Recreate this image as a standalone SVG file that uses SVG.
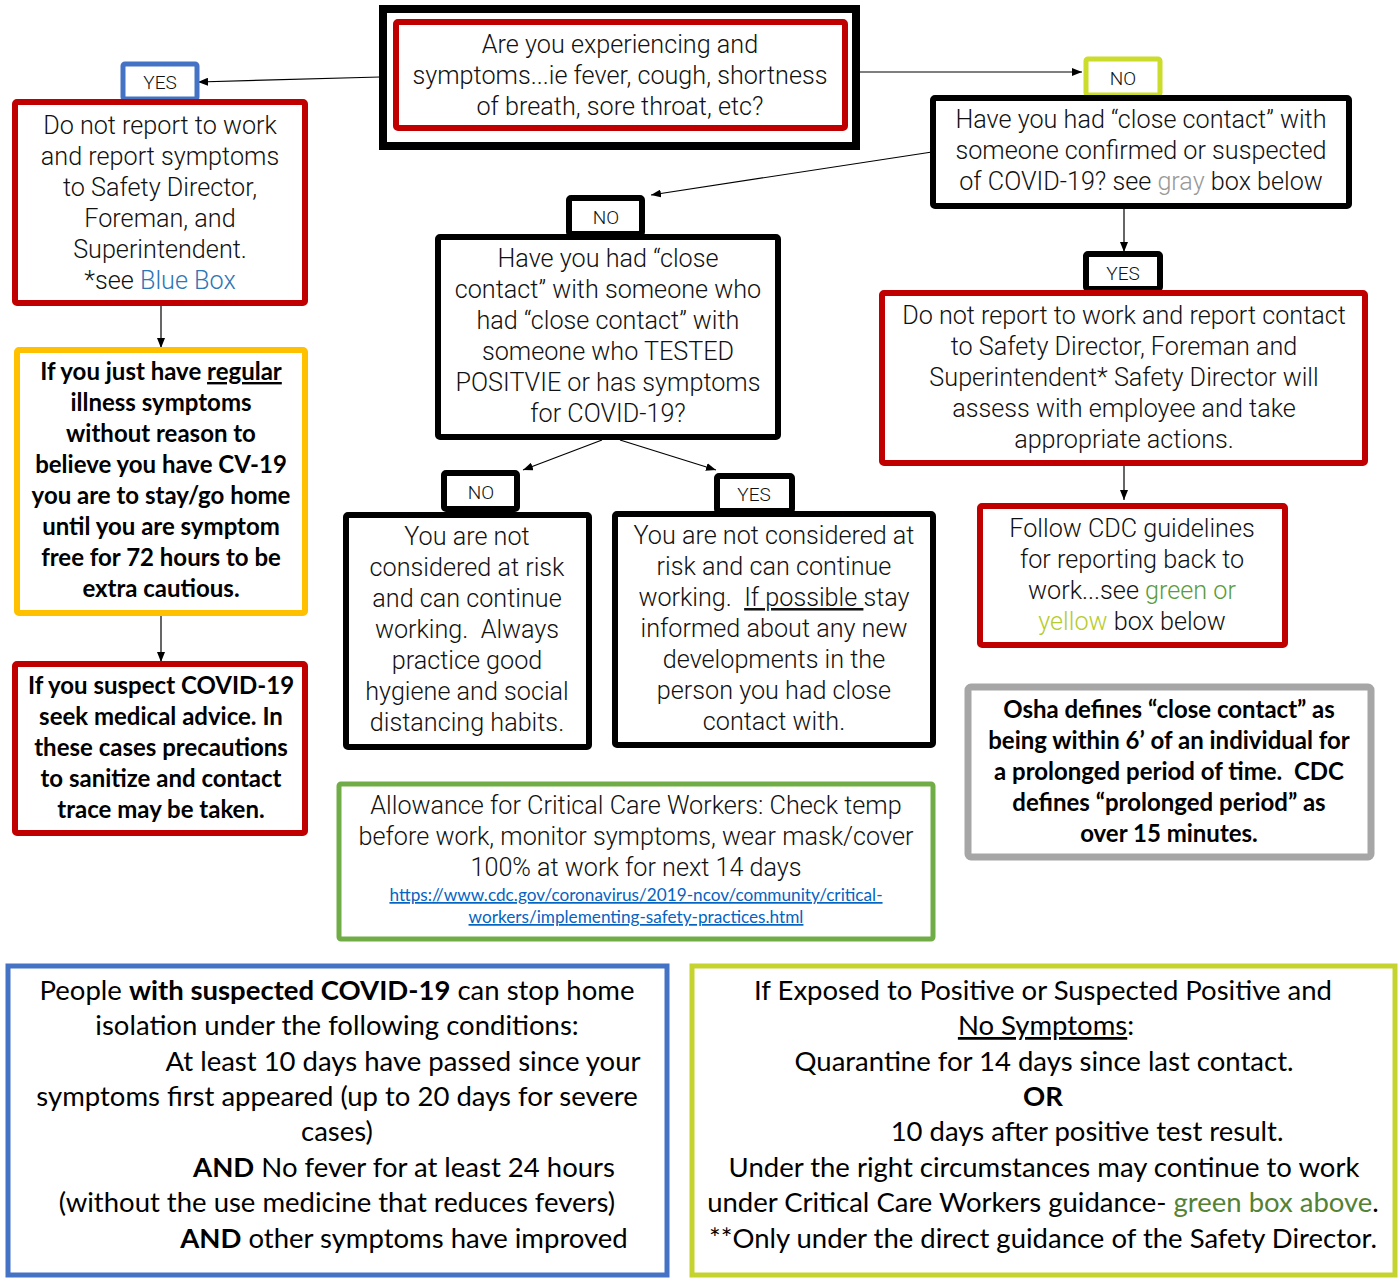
<svg xmlns="http://www.w3.org/2000/svg" width="1400" height="1278" viewBox="0 0 1400 1278">
<defs>
<marker id="arr" markerWidth="10" markerHeight="8" refX="10" refY="4" orient="auto" markerUnits="userSpaceOnUse">
<path d="M0,0 L10,4 L0,8 Z" fill="#000"/>
</marker>
<style>
.h{font-family:Roboto,"Liberation Sans",sans-serif;font-weight:300;font-size:25.2px;fill:#111;text-anchor:middle}
.lbl{font-family:Roboto,"Liberation Sans",sans-serif;font-weight:300;font-size:19px;fill:#111;text-anchor:middle}
.c{font-family:Lato,"Liberation Sans",sans-serif;font-size:27.5px;fill:#000;text-anchor:middle}
.cb{font-family:Lato,"Liberation Sans",sans-serif;font-weight:bold;font-size:24px;fill:#000;text-anchor:middle}
.b{font-weight:bold}
.link{font-family:Lato,"Liberation Sans",sans-serif;font-size:17.2px;fill:#0563C1;text-anchor:middle;text-decoration:underline}
.conn{stroke:#000;stroke-width:1.2;fill:none}
</style>
</defs>
<rect width="1400" height="1278" fill="#fff"/>

<g id="connectors">
<line class="conn" x1="380" y1="77" x2="198" y2="82" marker-end="url(#arr)"/>
<line class="conn" x1="858" y1="72" x2="1082" y2="72" marker-end="url(#arr)"/>
<line class="conn" x1="932" y1="152" x2="651" y2="195" marker-end="url(#arr)"/>
<line class="conn" x1="1124" y1="207" x2="1124" y2="252" marker-end="url(#arr)"/>
<line class="conn" x1="1124" y1="464" x2="1124" y2="500" marker-end="url(#arr)"/>
<line class="conn" x1="161" y1="304" x2="161" y2="348" marker-end="url(#arr)"/>
<line class="conn" x1="161" y1="616" x2="161" y2="662" marker-end="url(#arr)"/>
<line class="conn" x1="602" y1="440" x2="523" y2="470" marker-end="url(#arr)"/>
<line class="conn" x1="620" y1="440" x2="716" y2="470" marker-end="url(#arr)"/>
</g>

<g id="q1">
<rect x="383" y="9" width="473" height="137" fill="#fff" stroke="#000" stroke-width="8"/>
<rect x="396" y="22" width="449" height="106" fill="#fff" stroke="#C00000" stroke-width="6" rx="2"/>
<text class="h" x="620" y="53">Are you experiencing and</text>
<text class="h" x="620" y="84">symptoms...ie fever, cough, shortness</text>
<text class="h" x="620" y="115">of breath, sore throat, etc?</text>
</g>

<g id="yes1">
<rect x="123" y="64" width="74" height="35" fill="#fff" stroke="#4472C4" stroke-width="5" rx="2"/>
<text class="lbl" x="160" y="89">YES</text>
</g>

<g id="a1">
<rect x="15" y="102" width="290" height="201" fill="#fff" stroke="#C00000" stroke-width="6" rx="2"/>
<text class="h" x="160" y="134">Do not report to work</text>
<text class="h" x="160" y="165">and report symptoms</text>
<text class="h" x="160" y="196">to Safety Director,</text>
<text class="h" x="160" y="227">Foreman, and</text>
<text class="h" x="160" y="258">Superintendent.</text>
<text class="h" x="160" y="289">*see <tspan fill="#2E75B6">Blue Box</tspan></text>
</g>

<g id="a2">
<rect x="17" y="350" width="288" height="263" fill="#fff" stroke="#FFC000" stroke-width="6" rx="2"/>
<text class="cb" x="161" y="380">If you just have <tspan text-decoration="underline">regular</tspan></text>
<text class="cb" x="161" y="411">illness symptoms</text>
<text class="cb" x="161" y="442">without reason to</text>
<text class="cb" x="161" y="473">believe you have CV-19</text>
<text class="cb" x="161" y="504">you are to stay/go home</text>
<text class="cb" x="161" y="535">until you are symptom</text>
<text class="cb" x="161" y="566">free for 72 hours to be</text>
<text class="cb" x="161" y="597">extra cautious.</text>
</g>

<g id="a3">
<rect x="15" y="664" width="290" height="169" fill="#fff" stroke="#C00000" stroke-width="6" rx="2"/>
<text class="cb" x="161" y="694">If you suspect COVID-19</text>
<text class="cb" x="161" y="725">seek medical advice. In</text>
<text class="cb" x="161" y="756">these cases precautions</text>
<text class="cb" x="161" y="787">to sanitize and contact</text>
<text class="cb" x="161" y="818">trace may be taken.</text>
</g>

<g id="no1">
<rect x="1086" y="59" width="74" height="36" fill="#fff" stroke="#CBDC2B" stroke-width="5" rx="2"/>
<text class="lbl" x="1123" y="85">NO</text>
</g>

<g id="q2">
<rect x="933" y="98" width="416" height="108" fill="#fff" stroke="#000" stroke-width="6" rx="2"/>
<text class="h" x="1141" y="128">Have you had “close contact” with</text>
<text class="h" x="1141" y="159">someone confirmed or suspected</text>
<text class="h" x="1141" y="190">of COVID-19? see <tspan fill="#999">gray</tspan> box below</text>
</g>

<g id="yes2">
<rect x="1086" y="254" width="74" height="35" fill="#fff" stroke="#000" stroke-width="6" rx="2"/>
<text class="lbl" x="1123" y="280">YES</text>
</g>

<g id="b1">
<rect x="882" y="293" width="483" height="170" fill="#fff" stroke="#C00000" stroke-width="6" rx="2"/>
<text class="h" x="1124" y="324">Do not report to work and report contact</text>
<text class="h" x="1124" y="355">to Safety Director, Foreman and</text>
<text class="h" x="1124" y="386">Superintendent* Safety Director will</text>
<text class="h" x="1124" y="417">assess with employee and take</text>
<text class="h" x="1124" y="448">appropriate actions.</text>
</g>

<g id="b2">
<rect x="980" y="506" width="305" height="139" fill="#fff" stroke="#C00000" stroke-width="6" rx="2"/>
<text class="h" x="1132" y="537">Follow CDC guidelines</text>
<text class="h" x="1132" y="568">for reporting back to</text>
<text class="h" x="1132" y="599">work...see <tspan fill="#5B9B3A">green or</tspan></text>
<text class="h" x="1132" y="630"><tspan fill="#B5CC2E">yellow</tspan> box below</text>
</g>

<g id="gray">
<rect x="968" y="687" width="403" height="170" fill="#fff" stroke="#A6A6A6" stroke-width="7" rx="3"/>
<text class="cb" x="1169" y="718">Osha defines “close contact” as</text>
<text class="cb" x="1169" y="749">being within 6’ of an individual for</text>
<text class="cb" x="1169" y="780" xml:space="preserve">a prolonged period of time.  CDC</text>
<text class="cb" x="1169" y="811">defines “prolonged period” as</text>
<text class="cb" x="1169" y="842">over 15 minutes.</text>
</g>

<g id="no2">
<rect x="569" y="198" width="73" height="36" fill="#fff" stroke="#000" stroke-width="6" rx="2"/>
<text class="lbl" x="606" y="224">NO</text>
</g>

<g id="q3">
<rect x="438" y="237" width="340" height="200" fill="#fff" stroke="#000" stroke-width="6" rx="2"/>
<text class="h" x="608" y="267">Have you had “close</text>
<text class="h" x="608" y="298">contact” with someone who</text>
<text class="h" x="608" y="329">had “close contact” with</text>
<text class="h" x="608" y="360">someone who TESTED</text>
<text class="h" x="608" y="391">POSITVIE or has symptoms</text>
<text class="h" x="608" y="422">for COVID-19?</text>
</g>

<g id="no3">
<rect x="444" y="473" width="73" height="36" fill="#fff" stroke="#000" stroke-width="6" rx="2"/>
<text class="lbl" x="481" y="499">NO</text>
</g>

<g id="yes3">
<rect x="717" y="476" width="75" height="35" fill="#fff" stroke="#000" stroke-width="6" rx="2"/>
<text class="lbl" x="754" y="501">YES</text>
</g>

<g id="c1">
<rect x="346" y="515" width="243" height="232" fill="#fff" stroke="#000" stroke-width="6" rx="2"/>
<text class="h" x="467" y="545">You are not</text>
<text class="h" x="467" y="576">considered at risk</text>
<text class="h" x="467" y="607">and can continue</text>
<text class="h" x="467" y="638" xml:space="preserve">working.  Always</text>
<text class="h" x="467" y="669">practice good</text>
<text class="h" x="467" y="700">hygiene and social</text>
<text class="h" x="467" y="731">distancing habits.</text>
</g>

<g id="c2">
<rect x="615" y="514" width="318" height="231" fill="#fff" stroke="#000" stroke-width="6" rx="2"/>
<text class="h" x="774" y="544">You are not considered at</text>
<text class="h" x="774" y="575">risk and can continue</text>
<text class="h" x="774" y="606" xml:space="preserve">working.  <tspan text-decoration="underline">If possible </tspan>stay</text>
<text class="h" x="774" y="637">informed about any new</text>
<text class="h" x="774" y="668">developments in the</text>
<text class="h" x="774" y="699">person you had close</text>
<text class="h" x="774" y="730">contact with.</text>
</g>

<g id="green">
<rect x="339" y="784" width="594" height="155" fill="#fff" stroke="#70AD47" stroke-width="5" rx="2"/>
<text class="h" x="636" y="814">Allowance for Critical Care Workers: Check temp</text>
<text class="h" x="636" y="845">before work, monitor symptoms, wear mask/cover</text>
<text class="h" x="636" y="876">100% at work for next 14 days</text>
<text class="link" x="636" y="901">https://www.cdc.gov/coronavirus/2019-ncov/community/critical-</text>
<text class="link" x="636" y="923">workers/implementing-safety-practices.html</text>
</g>

<g id="blue">
<rect x="8" y="966" width="659" height="309" fill="#fff" stroke="#4472C4" stroke-width="5"/>
<text class="c" x="337" y="1000">People <tspan class="b">with suspected COVID-19</tspan> can stop home</text>
<text class="c" x="337" y="1035">isolation under the following conditions:</text>
<text class="c" x="403" y="1071">At least 10 days have passed since your</text>
<text class="c" x="337" y="1106">symptoms first appeared (up to 20 days for severe</text>
<text class="c" x="337" y="1141">cases)</text>
<text class="c" x="404" y="1177"><tspan class="b">AND</tspan> No fever for at least 24 hours</text>
<text class="c" x="337" y="1212">(without the use medicine that reduces fevers)</text>
<text class="c" x="404" y="1248"><tspan class="b">AND</tspan> other symptoms have improved</text>
</g>

<g id="lime">
<rect x="692" y="966" width="703" height="309" fill="#fff" stroke="#C5D32E" stroke-width="5"/>
<text class="c" x="1043" y="1000">If Exposed to Positive or Suspected Positive and</text>
<text class="c" x="1046" y="1035"><tspan text-decoration="underline">No Symptoms</tspan>:</text>
<text class="c" x="1044" y="1071">Quarantine for 14 days since last contact.</text>
<text class="c b" x="1043" y="1106">OR</text>
<text class="c" x="1087" y="1141">10 days after positive test result.</text>
<text class="c" x="1044" y="1177">Under the right circumstances may continue to work</text>
<text class="c" x="1043" y="1212">under Critical Care Workers guidance- <tspan fill="#548235">green box above</tspan>.</text>
<text class="c" x="1043" y="1248">**Only under the direct guidance of the Safety Director.</text>
</g>
</svg>
